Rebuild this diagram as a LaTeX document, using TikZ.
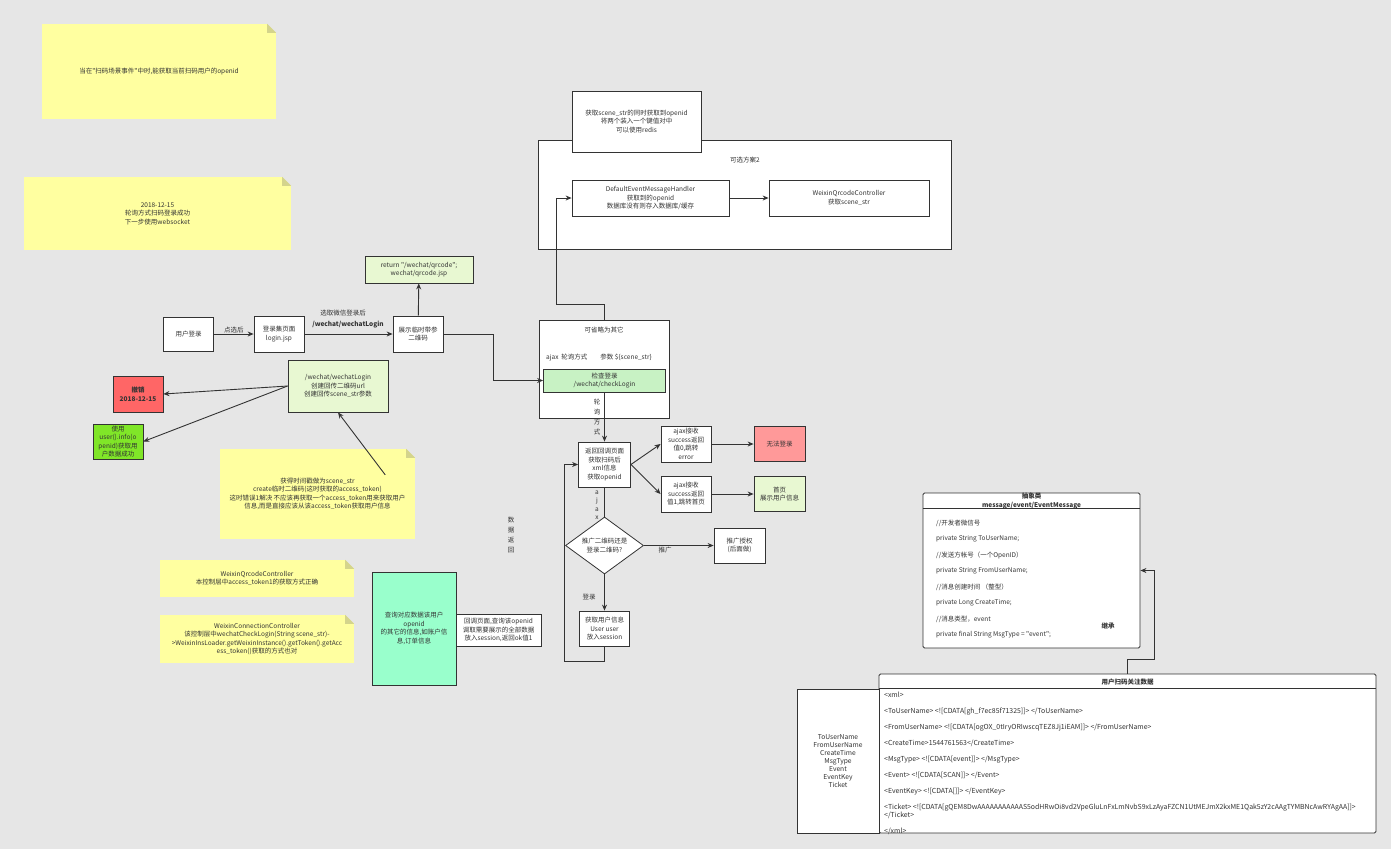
\documentclass[tikz,border=0pt]{standalone}
\usepackage{fontspec}
\setmainfont{Noto Sans CJK SC}[Ligatures=TeXOff]
\usetikzlibrary{arrows.meta,shapes.geometric}

\definecolor{bgc}{RGB}{230,230,230}
\definecolor{linec}{RGB}{51,51,51}
\definecolor{notec}{RGB}{255,255,160}
\definecolor{foldc}{RGB}{212,212,140}
\definecolor{paleg}{RGB}{232,248,210}
\definecolor{checkg}{RGB}{200,242,196}
\definecolor{redc}{RGB}{255,102,102}
\definecolor{pinkc}{RGB}{255,153,153}
\definecolor{limec}{RGB}{128,230,40}
\definecolor{aquac}{RGB}{153,255,204}

\newcommand{\fsm}{\fontsize{6.5}{8.5}\selectfont}

\tikzset{
  box/.style={draw=linec, fill=white, line width=0.8pt, align=center, inner sep=1pt},
  note/.style={fill=notec, align=center, inner sep=2pt},
  arr/.style={draw=linec, line width=0.9pt, -{Stealth[length=6pt,width=5pt]}},
  conn/.style={draw=linec, line width=0.9pt},
  txt/.style={inner sep=1pt},
  vtext/.style={align=center, font=\fontsize{6.5}{10}\selectfont, inner sep=0pt},
}

\begin{document}
\begin{tikzpicture}[x=1pt, y=-1pt, every node/.style={font=\fsm, text=linec}]
\fill[bgc] (0,0) rectangle (1391,849);
\useasboundingbox (0,0) rectangle (1391,849);

% sticky notes
\node[note, minimum width=234, minimum height=95] (n1) at (159,71.5)
  {当在"扫码场景事件"中时,能获取当前扫码用户的openid};
\node[note, minimum width=267, minimum height=73] (n2) at (157.5,213.5)
  {2018-12-15\\轮询方式扫码登录成功\\下一步使用websocket};
\node[note, minimum width=195, minimum height=90] (n3) at (317.5,494)
  {获得时间戳做为scene\_str\\create临时二维码(这时获取的access\_token)\\这时错误1解决 不应该再获取一个access\_token用来获取用户\\信息,而是直接应该从该access\_token获取用户信息};
\node[note, minimum width=194, minimum height=37] (n4) at (257,578.5)
  {WeixinQrcodeController\\本控制层中access\_token1的获取方式正确};
\node[note, minimum width=194, minimum height=48] (n5) at (257,639)
  {WeixinConnectionController\\该控制层中wechatCheckLogin(String scene\_str)-\\>WeixinInsLoader.getWeixinInstance().getToken().getAcc\\ess\_token()获取的方式也对};
\foreach \n in {n1,n2,n3,n4,n5} {
  \fill[bgc] (\n.north east) -- ++(-9,0) -- ++(9,9) -- cycle;
  \fill[foldc] (\n.north east) ++(-9,0) -- ++(9,9) -- ++(-9,0) -- cycle;
}

% option 2
\node[box, minimum width=413, minimum height=109] (plan) at (744.5,194.5) {};
\node[txt] (plant) at (745,160) {可选方案2};
\node[box, minimum width=129, minimum height=61] (redis) at (636.5,121.5)
  {获取scene\_str的同时获取到openid\\将两个装入一个键值对中\\可以使用redis};
\node[box, minimum width=157, minimum height=36] (handler) at (650.5,198)
  {DefaultEventMessageHandler\\获取到的openid\\数据库没有则存入数据库/缓存};
\node[box, minimum width=160, minimum height=36] (qrctl) at (849,198)
  {WeixinQrcodeController\\获取scene\_str};
\draw[arr] (handler) -- (qrctl);

% login row
\node[box, fill=paleg, minimum width=108, minimum height=27] (ret) at (419,269.5)
  {return "/wechat/qrcode";\\wechat/qrcode.jsp};
\node[box, minimum width=50, minimum height=34] (user) at (188.5,334) {用户登录};
\node[box, minimum width=50, minimum height=36] (loginpg) at (279,334) {登录集页面\\login.jsp};
\node[box, minimum width=50, minimum height=36] (qrshow) at (418,334) {展示临时带参\\二维码};
\draw[arr] (user) -- node[above, txt] (lb1) {点选后} (loginpg);
\draw[arr] (loginpg) -- (qrshow);
\node[txt] (lb2) at (343,313) {选取微信登录后};
\node[txt, font=\fsm\bfseries] (lb3) at (348,325) {/wechat/wechatLogin};
\draw[arr] (qrshow) -- (ret);

\node[box, fill=paleg, minimum width=100, minimum height=52] (wlogin) at (338,386)
  {/wechat/wechatLogin\\创建回传二维码url\\创建回传scene\_str参数};
\node[box, fill=redc, minimum width=50, minimum height=36, font=\fsm\bfseries] (cancel) at (138,394)
  {撤销\\2018-12-15};
\node[box, fill=limec, minimum width=50, minimum height=35] (use) at (118,441.5)
  {使用\\user().info(o\\penid)获取用\\户数据成功};
\draw[arr] (wlogin.west) -- (cancel.east);
\draw[arr] (wlogin.west) -- (use.east);
\draw[arr] (n3.north east) ++(-30,26) -- (wlogin.south);

% polling
\node[box, minimum width=130, minimum height=98] (cont) at (604,369) {};
\node[txt] (contt) at (604,330) {可省略为其它};
\node[txt] (param) at (599,358) {ajax\ \ 轮询方式\qquad 参数 \$\{scene\_str\}};
\node[box, fill=checkg, minimum width=122, minimum height=23] (check) at (604.5,380.5)
  {检查登录\\/wechat/checkLogin};
\draw[arr] (qrshow.east) -- ++(50,0) |- (check.west);
\draw[arr] (cont.north) -- ++(0,-15) -- ++(-48,0) |- (handler.west);

\node[box, minimum width=52, minimum height=45] (back) at (604.5,464.5)
  {返回回调页面\\获取扫码后\\xml信息\\获取openid};
\draw[arr] (check) -- (back);
\node[vtext] (vt1) at (597,417.5) {轮\\询\\方\\式};
\node[vtext, font=\fontsize{6.5}{8.5}\selectfont] (vt2) at (597,505) {a\\j\\a\\x};
\node[vtext] (vt3) at (511,535.5) {数\\据\\返\\回};

\node[box, minimum width=50, minimum height=36] (ajax0) at (686,444)
  {ajax接收\\success返回\\值0,跳转\\error};
\node[box, minimum width=50, minimum height=36] (ajax1) at (686,494)
  {ajax接收\\success返回\\值1,跳转首页};
\node[box, fill=pinkc, minimum width=51, minimum height=35] (nolog) at (779.5,444) {无法登录};
\node[box, fill=paleg, minimum width=51, minimum height=35] (home) at (779.5,494) {首页\\展示用户信息};
\draw[arr] (back.east) -- (ajax0.west);
\draw[arr] (back.east) -- (ajax1.west);
\draw[arr] (ajax0) -- (nolog);
\draw[arr] (ajax1) -- (home);

\node[box, shape=diamond, aspect=1.37, inner sep=0pt, minimum width=78, minimum height=57] (dia) at (604.5,545.5)
  {推广二维码还是\\登录二维码?};
\draw[conn] (back) -- (dia);
\node[box, minimum width=51, minimum height=35] (promo) at (739.5,545.5) {推广授权\\(后面做)};
\draw[arr] (dia) -- (promo);
\node[txt] (lb4) at (665,550) {推广};
\node[box, minimum width=50, minimum height=35] (getuser) at (604.5,628.5)
  {获取用户信息\\User user\\放入session};
\draw[arr] (dia) -- (getuser);
\node[txt] (lb5) at (589,597) {登录};
\draw[arr] (getuser.south) -- ++(0,15) -- ++(-40,0) |- (back.west);

% query
\node[box, fill=aquac, minimum width=84, minimum height=113] (query) at (414,628.5)
  {查询对应数据该用户\\openid\\的其它的信息,如账户信\\息,订单信息};
\node[box, minimum width=85, minimum height=32] (cb) at (498.5,630)
  {回调页面,查询该openid\\调取需要展示的全部数据\\放入session,返回ok值1};

% abstract class
\node[box, rounded corners=1.5pt, minimum width=217, minimum height=155] (cls) at (1031.5,570.5) {};
\draw[conn] (cls.north west) ++(0,16) -- ++(217,0);
\node[txt, align=center, font=\fsm\bfseries] (clsh) at (1031.5,501) {抽象类\\message/event/EventMessage};
\foreach \t [count=\i] in {//开发者微信号, private String ToUserName;, //发送方帐号（一个OpenID）,
  private String FromUserName;, //消息创建时间 （整型）, private Long CreateTime;,
  //消息类型，event, private final String MsgType = "event";}
  \node[txt, anchor=west] (f\i) at (935,507+16*\i) {\t};
\node[txt, font=\fsm\bfseries] (inh) at (1108,626) {继承};

% scan data table
\node[box, rounded corners=1.5pt, minimum width=497, minimum height=159] (scan) at (1127.5,753.5) {};
\draw[conn] (scan.north west) ++(0,15) -- ++(497,0);
\node[txt, font=\fsm\bfseries] (scanh) at (1127.5,682) {用户扫码关注数据};
\node[box, minimum width=82, minimum height=144, font=\fontsize{6.7}{8}\selectfont] (leftcol) at (838,761)
  {ToUserName\\FromUserName\\CreateTime\\MsgType\\Event\\EventKey\\Ticket};
\node[txt, anchor=north west, align=left, font=\fontsize{6.9}{8}\selectfont] (xml) at (883,691)
  {<xml>\\[8pt]
   <ToUserName> <![CDATA[gh\_f7ec85f71325]]> </ToUserName>\\[8pt]
   <FromUserName> <![CDATA[ogOX\_0tIryORIwscqTEZ8Jj1iEAM]]> </FromUserName>\\[8pt]
   <CreateTime>1544761563</CreateTime>\\[8pt]
   <MsgType> <![CDATA[event]]> </MsgType>\\[8pt]
   <Event> <![CDATA[SCAN]]> </Event>\\[8pt]
   <EventKey> <![CDATA[]]> </EventKey>\\[8pt]
   <Ticket> <![CDATA[gQEM8DwAAAAAAAAAAAS5odHRwOi8vd2VpeGluLnFxLmNvbS9xLzAyaFZCN1UtMEJmX2kxME1Qak5zY2cAAgTYMBNcAwRYAgAA]]>\\
   </Ticket>\\[8pt]
   </xml>};
\draw[arr] (scan.north) -- ++(0,-14) -- ++(27,0) |- (cls.east);
\end{tikzpicture}
\end{document}
